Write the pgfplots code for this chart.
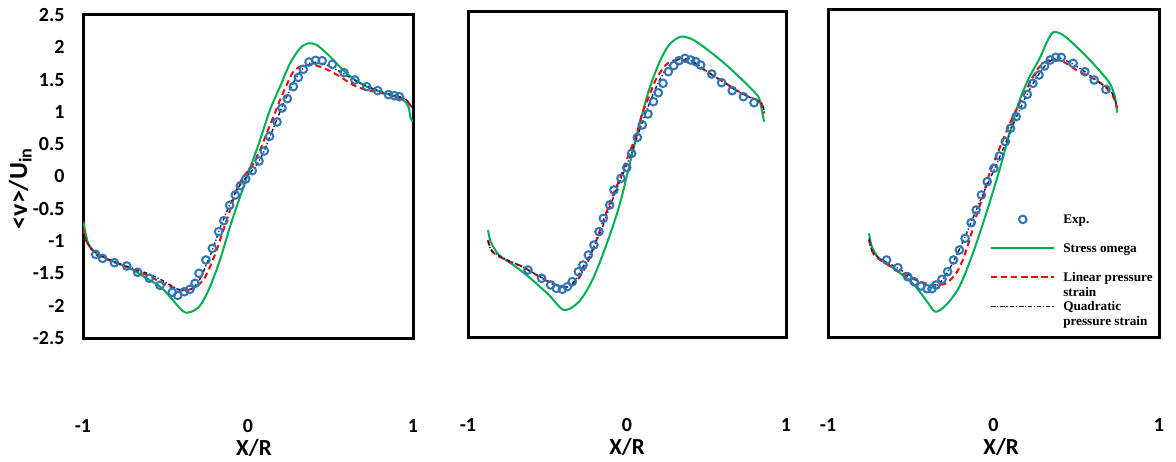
\documentclass[border=0pt]{standalone}
\usepackage{pgfplots}
\pgfplotsset{compat=1.18}
\usepackage{fontspec}
\setmainfont{Carlito}
\newfontfamily\legfont{Liberation Serif}
\definecolor{expblue}{RGB}{46,117,182}
\definecolor{somgreen}{RGB}{0,176,80}
\definecolor{navyq}{RGB}{0,32,96}
\pgfplotsset{
  panel/.style={
    scale only axis,
    xmin=-1,xmax=1,ymin=-2.5,ymax=2.5,
    xtick={-1,0,1},
    xticklabels={-1,0,1},
    axis line style={line width=1.5pt},
    major tick length=0pt,
    tick label style={font=\bfseries\fontsize{10}{12}\selectfont, inner sep=0pt},
    xticklabel style={anchor=center, yshift=-44pt},
    xlabel={X/R},
    clip=true,
  },
  expst/.style={only marks, mark=o, mark size=1.9pt, color=expblue, mark options={line width=1pt}},
  somst/.style={color=somgreen, line width=1pt, mark=none, smooth, tension=0.5},
  linst/.style={color=red, draw=red, line width=1pt, dash pattern=on 3pt off 2pt, mark=none, smooth, tension=0.5},
  quadst/.style={color=navyq, line width=0.7pt, dash pattern=on 2pt off 1pt on 0.6pt off 1pt, mark=none, smooth, tension=0.5},
}
\begin{document}
\begin{tikzpicture}
\useasboundingbox (0,0) rectangle (588pt,230.5pt);
% ---------------- Panel 1
\begin{axis}[panel, at={(41.5pt,61.5pt)}, anchor=south west, width=165pt, height=161.5pt,
  ytick={-2.5,-2,-1.5,-1,-0.5,0,0.5,1,1.5,2,2.5},
  yticklabels={-2.5,-2,-1.5,-1,-0.5,0,0.5,1,1.5,2,2.5},
  yticklabel style={anchor=east, xshift=-9pt},
  ylabel={<v>/U\textsubscript{in}},
  ylabel style={at={(axis description cs:-0.19,0.463)}, anchor=center, font=\bfseries\fontsize{13}{15}\selectfont},
  xlabel style={at={(axis description cs:0.518,0)}, anchor=center, yshift=-54.75pt, font=\bfseries\fontsize{11.5}{13}\selectfont},
]
\addplot[expst] coordinates {
(-0.923,-1.205) (-0.881,-1.267) (-0.810,-1.334) (-0.735,-1.385) (-0.669,-1.483) (-0.598,-1.576)
(-0.533,-1.685) (-0.459,-1.793) (-0.426,-1.840) (-0.386,-1.783) (-0.352,-1.747) (-0.321,-1.654)
(-0.297,-1.499) (-0.255,-1.293) (-0.216,-1.112) (-0.178,-0.854) (-0.147,-0.684) (-0.111,-0.446)
(-0.077,-0.286) (-0.046,-0.142) (-0.014,-0.039) (0.026,0.090) (0.067,0.240) (0.099,0.395)
(0.131,0.622) (0.176,0.844) (0.206,1.060) (0.238,1.205) (0.275,1.391) (0.305,1.535)
(0.335,1.659) (0.370,1.772) (0.410,1.798) (0.450,1.793) (0.511,1.736) (0.582,1.607)
(0.648,1.494) (0.719,1.391) (0.786,1.329) (0.851,1.267) (0.887,1.251) (0.917,1.236)};
\addplot[somst] coordinates {
(-1.0,-0.70) (-0.994,-0.751) (-0.968,-1.035) (-0.917,-1.189) (-0.816,-1.318) (-0.715,-1.422) (-0.614,-1.576)
(-0.533,-1.705) (-0.473,-1.860) (-0.412,-2.041) (-0.376,-2.108) (-0.321,-2.067) (-0.281,-1.963)
(-0.230,-1.705) (-0.170,-1.293) (-0.109,-0.777) (-0.048,-0.312) (0.012,0.126) (0.073,0.565)
(0.133,1.029) (0.194,1.391) (0.255,1.752) (0.315,1.984) (0.366,2.061) (0.416,2.036)
(0.477,1.907) (0.537,1.752) (0.598,1.597) (0.659,1.478) (0.719,1.391) (0.800,1.313)
(0.881,1.246) (0.941,1.184) (0.972,1.081) (0.986,0.900) (1.0,0.85)};
\addplot[linst] coordinates {
(-1.0,-0.80) (-0.994,-0.854) (-0.978,-1.009) (-0.917,-1.215) (-0.816,-1.318) (-0.715,-1.422) (-0.614,-1.525)
(-0.513,-1.654) (-0.412,-1.757) (-0.331,-1.731) (-0.271,-1.602) (-0.230,-1.396) (-0.190,-1.138)
(-0.149,-0.828) (-0.109,-0.519) (-0.069,-0.209) (-0.028,-0.003) (0.022,0.152) (0.073,0.410)
(0.113,0.668) (0.154,0.926) (0.194,1.184) (0.234,1.416) (0.275,1.623) (0.325,1.710)
(0.396,1.726) (0.477,1.659) (0.558,1.545) (0.638,1.416) (0.719,1.339) (0.800,1.298)
(0.881,1.246) (0.952,1.200) (0.982,1.107) (1.0,1.05)};
\addplot[quadst] coordinates {
(-0.994,-0.90) (-0.97,-1.05) (-0.92,-1.18) (-0.82,-1.31) (-0.72,-1.40) (-0.61,-1.50) (-0.51,-1.62)
(-0.43,-1.74) (-0.38,-1.77) (-0.33,-1.72) (-0.29,-1.58) (-0.25,-1.35) (-0.21,-1.10) (-0.17,-0.80)
(-0.13,-0.55) (-0.09,-0.32) (-0.05,-0.14) (0.0,0.02) (0.05,0.17) (0.09,0.35) (0.13,0.60)
(0.17,0.85) (0.21,1.10) (0.25,1.32) (0.29,1.52) (0.33,1.66) (0.37,1.75) (0.42,1.77)
(0.48,1.72) (0.56,1.62) (0.64,1.50) (0.72,1.40) (0.80,1.32) (0.88,1.26) (0.95,1.21) (0.98,1.12) (1.0,1.05)};
\end{axis}
% ---------------- Panel 2
\begin{axis}[panel, at={(234pt,62pt)}, anchor=south west, width=159pt, height=163pt,
  ytick=\empty,
  xlabel style={at={(axis description cs:0.5,0)}, anchor=center, yshift=-55pt, font=\bfseries\fontsize{11.5}{13}\selectfont},
]
\addplot[expst] coordinates {
(-0.623,-1.472) (-0.537,-1.600) (-0.480,-1.702) (-0.444,-1.754) (-0.407,-1.769) (-0.375,-1.728)
(-0.344,-1.651) (-0.306,-1.498) (-0.277,-1.396) (-0.243,-1.242) (-0.208,-1.089) (-0.176,-0.884)
(-0.149,-0.680) (-0.109,-0.475) (-0.082,-0.245) (-0.038,-0.066) (-0.002,0.097) (0.029,0.317)
(0.065,0.562) (0.096,0.752) (0.132,0.920) (0.166,1.109) (0.197,1.247) (0.226,1.391)
(0.260,1.569) (0.294,1.662) (0.327,1.738) (0.365,1.774) (0.400,1.748) (0.432,1.723)
(0.463,1.672) (0.533,1.534) (0.595,1.401) (0.662,1.278) (0.732,1.186) (0.799,1.094)};
\addplot[somst] coordinates {
(-0.874,-0.859) (-0.857,-1.038) (-0.805,-1.242) (-0.700,-1.421) (-0.595,-1.626) (-0.491,-1.856)
(-0.396,-2.086) (-0.302,-1.958) (-0.218,-1.626) (-0.134,-1.115) (-0.050,-0.501) (0.013,0.112)
(0.075,0.726) (0.138,1.288) (0.201,1.697) (0.264,1.979) (0.338,2.106) (0.411,2.065)
(0.495,1.927) (0.600,1.723) (0.704,1.493) (0.809,1.237) (0.834,1.135) (0.862,0.803)};
\addplot[linst] coordinates {
(-0.874,-1.012) (-0.847,-1.191) (-0.763,-1.319) (-0.658,-1.421) (-0.553,-1.575) (-0.449,-1.702)
(-0.365,-1.728) (-0.312,-1.626) (-0.260,-1.421) (-0.208,-1.115) (-0.155,-0.757) (-0.092,-0.348)
(-0.040,-0.041) (0.013,0.317) (0.055,0.573) (0.096,0.930) (0.138,1.186) (0.180,1.442)
(0.243,1.672) (0.306,1.748) (0.369,1.748) (0.453,1.646) (0.537,1.518) (0.621,1.391)
(0.704,1.263) (0.788,1.161) (0.841,1.109) (0.862,0.930)};
\addplot[quadst] coordinates {
(-0.874,-1.03) (-0.85,-1.18) (-0.76,-1.31) (-0.66,-1.42) (-0.55,-1.57) (-0.45,-1.70) (-0.38,-1.74)
(-0.33,-1.64) (-0.28,-1.44) (-0.22,-1.17) (-0.16,-0.85) (-0.10,-0.45) (-0.05,-0.14) (0.0,0.15)
(0.05,0.47) (0.10,0.82) (0.15,1.14) (0.20,1.42) (0.25,1.62) (0.30,1.74) (0.36,1.77) (0.42,1.72)
(0.50,1.58) (0.58,1.45) (0.66,1.32) (0.74,1.21) (0.82,1.13) (0.855,1.05) (0.862,0.95)};
\end{axis}
% ---------------- Panel 3
\begin{axis}[panel, at={(414pt,62pt)}, anchor=south west, width=165.5pt, height=164pt,
  ytick=\empty,
  xlabel style={at={(axis description cs:0.523,0)}, anchor=center, yshift=-55pt, font=\bfseries\fontsize{11.5}{13}\selectfont},
  legend style={at={(axis description cs:0.489,0.3735)}, anchor=north west, draw=none, fill=none,
    inner sep=0pt, row sep=10pt, column sep=4pt,
    font=\legfont\bfseries\fontsize{6.6}{7.5}\selectfont,
    nodes={inner sep=0pt, text height=4.5pt, text depth=0pt}},
  legend cell align=left,
  legend image code/.code={\draw[mark repeat=2,mark phase=2,#1] plot coordinates {(0pt,0pt) (15.75pt,0pt) (31.5pt,0pt)};},
]
\addplot[expst] coordinates {
(-0.646,-1.326) (-0.578,-1.443) (-0.519,-1.580) (-0.479,-1.657) (-0.438,-1.723) (-0.402,-1.763)
(-0.372,-1.763) (-0.347,-1.707) (-0.311,-1.621) (-0.277,-1.504) (-0.242,-1.326) (-0.206,-1.174)
(-0.172,-0.996) (-0.135,-0.757) (-0.105,-0.564) (-0.073,-0.335) (-0.038,-0.132) (0.002,0.071)
(0.036,0.259) (0.071,0.478) (0.103,0.681) (0.137,0.859) (0.172,1.037) (0.204,1.199)
(0.238,1.367) (0.275,1.494) (0.309,1.631) (0.343,1.723) (0.376,1.763) (0.410,1.763)
(0.481,1.672) (0.552,1.545) (0.608,1.418) (0.679,1.275)};
\addlegendentry{Exp.}
\addplot[somst] coordinates {
(-0.752,-0.920) (-0.735,-1.123) (-0.691,-1.301) (-0.590,-1.479) (-0.489,-1.682) (-0.408,-1.936)
(-0.352,-2.114) (-0.287,-2.012) (-0.206,-1.733) (-0.125,-1.225) (-0.044,-0.615) (0.036,0.046)
(0.097,0.605) (0.158,1.113) (0.218,1.468) (0.279,1.748) (0.319,1.977) (0.360,2.144)
(0.420,2.104) (0.501,1.926) (0.582,1.723) (0.663,1.494) (0.703,1.367) (0.733,1.164) (0.747,0.920)};
\addlegendentry{Stress omega}
\addplot[linst] coordinates {
(-0.752,-1.021) (-0.721,-1.250) (-0.651,-1.377) (-0.570,-1.504) (-0.469,-1.631) (-0.368,-1.707)
(-0.287,-1.682) (-0.226,-1.529) (-0.186,-1.326) (-0.145,-1.021) (-0.105,-0.666) (-0.065,-0.361)
(-0.024,-0.005) (0.016,0.249) (0.057,0.503) (0.117,0.859) (0.178,1.164) (0.238,1.468)
(0.279,1.621) (0.339,1.723) (0.420,1.697) (0.501,1.570) (0.582,1.468) (0.663,1.341)
(0.723,1.164) (0.747,0.986)};
\addlegendentry{\begin{tabular}[t]{@{}l@{}}Linear pressure\\strain\end{tabular}}
\addplot[quadst] coordinates {
(-0.752,-1.00) (-0.735,-1.18) (-0.69,-1.30) (-0.60,-1.42) (-0.50,-1.57) (-0.42,-1.70) (-0.36,-1.74)
(-0.30,-1.60) (-0.24,-1.34) (-0.18,-1.02) (-0.12,-0.66) (-0.06,-0.30) (0.0,0.03) (0.06,0.38)
(0.12,0.75) (0.18,1.08) (0.24,1.37) (0.30,1.60) (0.35,1.72) (0.40,1.75) (0.48,1.66) (0.56,1.53)
(0.64,1.38) (0.70,1.27) (0.73,1.15) (0.745,1.02)};
\addlegendentry{\begin{tabular}[t]{@{}l@{}}Quadratic\\pressure strain\end{tabular}}
\end{axis}
\end{tikzpicture}
\end{document}
